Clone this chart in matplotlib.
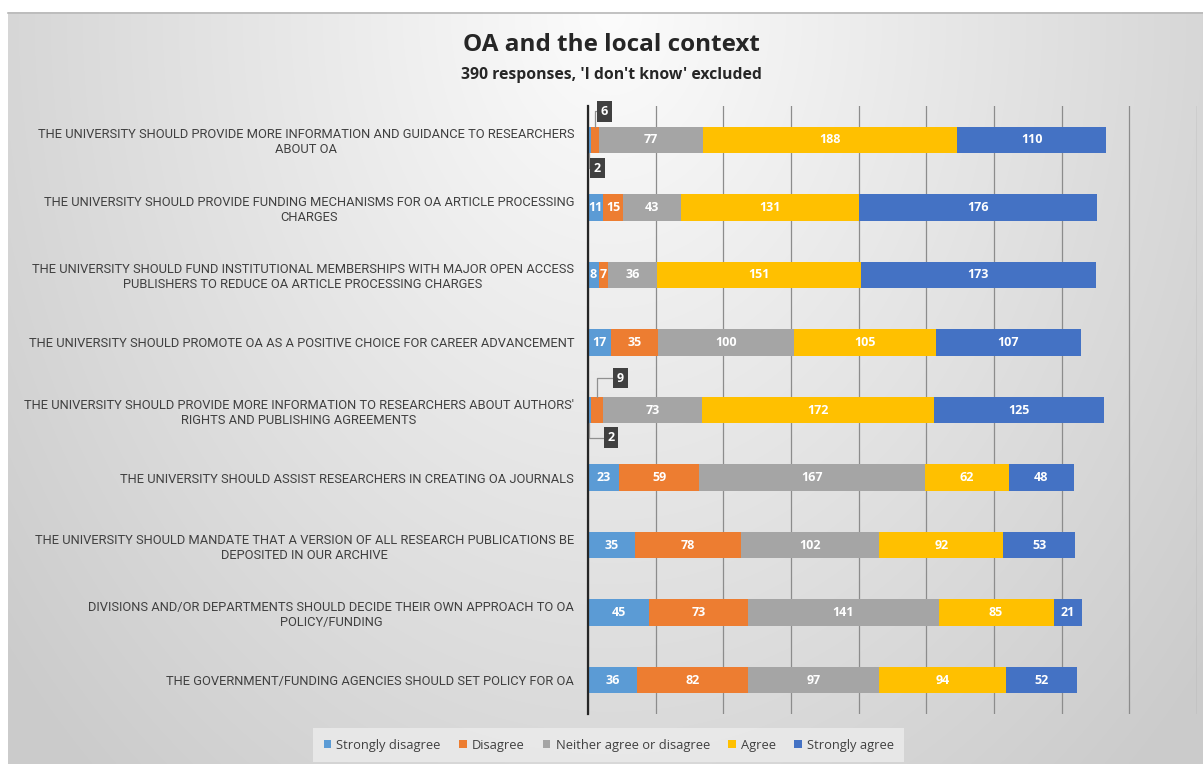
import matplotlib
matplotlib.use("Agg")
import matplotlib.pyplot as plt
import numpy as np

categories = [
    "THE UNIVERSITY SHOULD PROVIDE MORE INFORMATION AND GUIDANCE TO RESEARCHERS\nABOUT OA",
    "THE UNIVERSITY SHOULD PROVIDE FUNDING MECHANISMS FOR OA ARTICLE PROCESSING\nCHARGES",
    "THE UNIVERSITY SHOULD FUND INSTITUTIONAL MEMBERSHIPS WITH MAJOR OPEN ACCESS\nPUBLISHERS TO REDUCE OA ARTICLE PROCESSING CHARGES",
    "THE UNIVERSITY SHOULD PROMOTE OA AS A POSITIVE CHOICE FOR CAREER ADVANCEMENT",
    "THE UNIVERSITY SHOULD PROVIDE MORE INFORMATION TO RESEARCHERS ABOUT AUTHORS'\nRIGHTS AND PUBLISHING AGREEMENTS",
    "THE UNIVERSITY SHOULD ASSIST RESEARCHERS IN CREATING OA JOURNALS",
    "THE UNIVERSITY SHOULD MANDATE THAT A VERSION OF ALL RESEARCH PUBLICATIONS BE\nDEPOSITED IN OUR ARCHIVE",
    "DIVISIONS AND/OR DEPARTMENTS SHOULD DECIDE THEIR OWN APPROACH TO OA\nPOLICY/FUNDING",
    "THE GOVERNMENT/FUNDING AGENCIES SHOULD SET POLICY FOR OA",
]

series_names = ["Strongly disagree", "Disagree", "Neither agree or disagree", "Agree", "Strongly agree"]
strongly_disagree = [2, 11, 8, 17, 2, 23, 35, 45, 36]
disagree = [6, 15, 7, 35, 9, 59, 78, 73, 82]
neither = [77, 43, 36, 100, 73, 167, 102, 141, 97]
agree = [188, 131, 151, 105, 172, 62, 92, 85, 94]
strongly_agree = [110, 176, 173, 107, 125, 48, 53, 21, 52]

colors = ["#5B9BD5", "#ED7D31", "#A5A5A5", "#FFC000", "#4472C4"]

# small values shown in callout boxes instead of inside the bar
# (category index, series index, label x, label y offset)
callouts = [(0, 1, 12, -0.42), (0, 0, 7, 0.42), (4, 1, 24, -0.47), (4, 0, 17, 0.41)]

W, H = 1203, 764
fig = plt.figure(figsize=(W / 100, H / 100), dpi=100)

# background: white strip at top/left, radial grey gradient panel
bg = fig.add_axes([0, 0, 1, 1], zorder=-10)
yy, xx = np.mgrid[0:H, 0:W]
d = np.sqrt(((xx - 610) / 640.0) ** 2 + ((yy - 10) / 850.0) ** 2)
val = np.clip(252 - 40 * d, 203, 252) / 255.0
val[:12, :] = 1.0
val[:, :8] = 1.0
img = np.dstack([val, val, val])
bg.imshow(img, extent=[0, W, H, 0], aspect="auto")
bg.plot([8, W], [12.5, 12.5], color="#b8b8b8", lw=1.2)
bg.set_xlim(0, W)
bg.set_ylim(H, 0)
bg.axis("off")

ax = fig.add_axes([588 / W, 1 - 714 / H, (1197 - 588) / W, (714 - 106) / H])
ax.patch.set_alpha(0)

data = [strongly_disagree, disagree, neither, agree, strongly_agree]
y = np.arange(len(categories))
left = np.zeros(len(categories))
skip = {(c, s) for c, s, _, _ in callouts}
for s, (vals, name, col) in enumerate(zip(data, series_names, colors)):
    vals = np.array(vals, dtype=float)
    ax.barh(y, vals, left=left, height=0.39, color=col, label=name, zorder=3)
    for i, v in enumerate(vals):
        if (i, s) in skip:
            continue
        ax.text(left[i] + v / 2, y[i], f"{int(v)}", ha="center", va="center",
                color="white", fontsize=9, fontweight="bold", family="Open Sans", zorder=4)
    left += vals

# callout boxes with leader lines
starts = np.zeros((len(categories), len(data)))
for s in range(1, len(data)):
    starts[:, s] = starts[:, s - 1] + np.array(data[s - 1])
for c, s, lx, dy in callouts:
    v = data[s][c]
    px = starts[c, s] + v / 2
    edge = y[c] + (-0.195 if dy < 0 else 0.195)
    ax.annotate(f"{v}", xy=(px, edge), xytext=(lx, y[c] + dy),
                ha="center", va="center", color="white", fontsize=9,
                fontweight="bold", family="Open Sans", zorder=6,
                bbox=dict(boxstyle="square,pad=0.3", fc="#404040", ec="none"),
                arrowprops=dict(arrowstyle="-", color="#909090", lw=0.9,
                                connectionstyle="angle,angleA=0,angleB=90,rad=0",
                                shrinkA=0, shrinkB=0))

ax.set_xlim(0, 450)
ax.set_ylim(len(categories) - 0.5, -0.5)
ax.set_xticks(np.arange(0, 451, 50))
ax.set_xticklabels([])
ax.grid(axis="x", color="#8c8c8c", lw=0.9, zorder=1)
ax.tick_params(axis="both", length=0)
ax.tick_params(axis="y", pad=10)
ax.set_yticks(y)
ax.set_yticklabels(categories, family=["Roboto", "DejaVu Sans"],
                   fontsize=9.3, color="#404040", multialignment="center")
for sp in ["top", "right", "bottom"]:
    ax.spines[sp].set_visible(False)
ax.spines["left"].set_color("#262626")
ax.spines["left"].set_linewidth(1.6)
ax.spines["left"].set_zorder(5)

fig.text(0.508, 1 - 45 / H, "OA and the local context", ha="center", va="center",
         fontsize=17.5, fontweight="bold", color="#262626", family="Open Sans")
fig.text(0.508, 1 - 75 / H, "390 responses, 'I don't know' excluded", ha="center", va="center",
         fontsize=11.3, fontweight="bold", color="#262626", family="Open Sans")

leg = fig.legend(loc="center", bbox_to_anchor=(0.506, 1 - 745 / H), ncol=5, frameon=True,
                 handlelength=0.6, handleheight=0.6, handletextpad=0.4,
                 columnspacing=1.4, borderpad=0.5,
                 prop={"family": "Open Sans", "size": 9.3})
leg.get_frame().set_facecolor("#ececec")
leg.get_frame().set_edgecolor("none")
leg.get_frame().set_alpha(0.8)
leg.get_frame().set_boxstyle("square")
for t in leg.get_texts():
    t.set_color("#404040")

fig.savefig("out.png", dpi=100)
